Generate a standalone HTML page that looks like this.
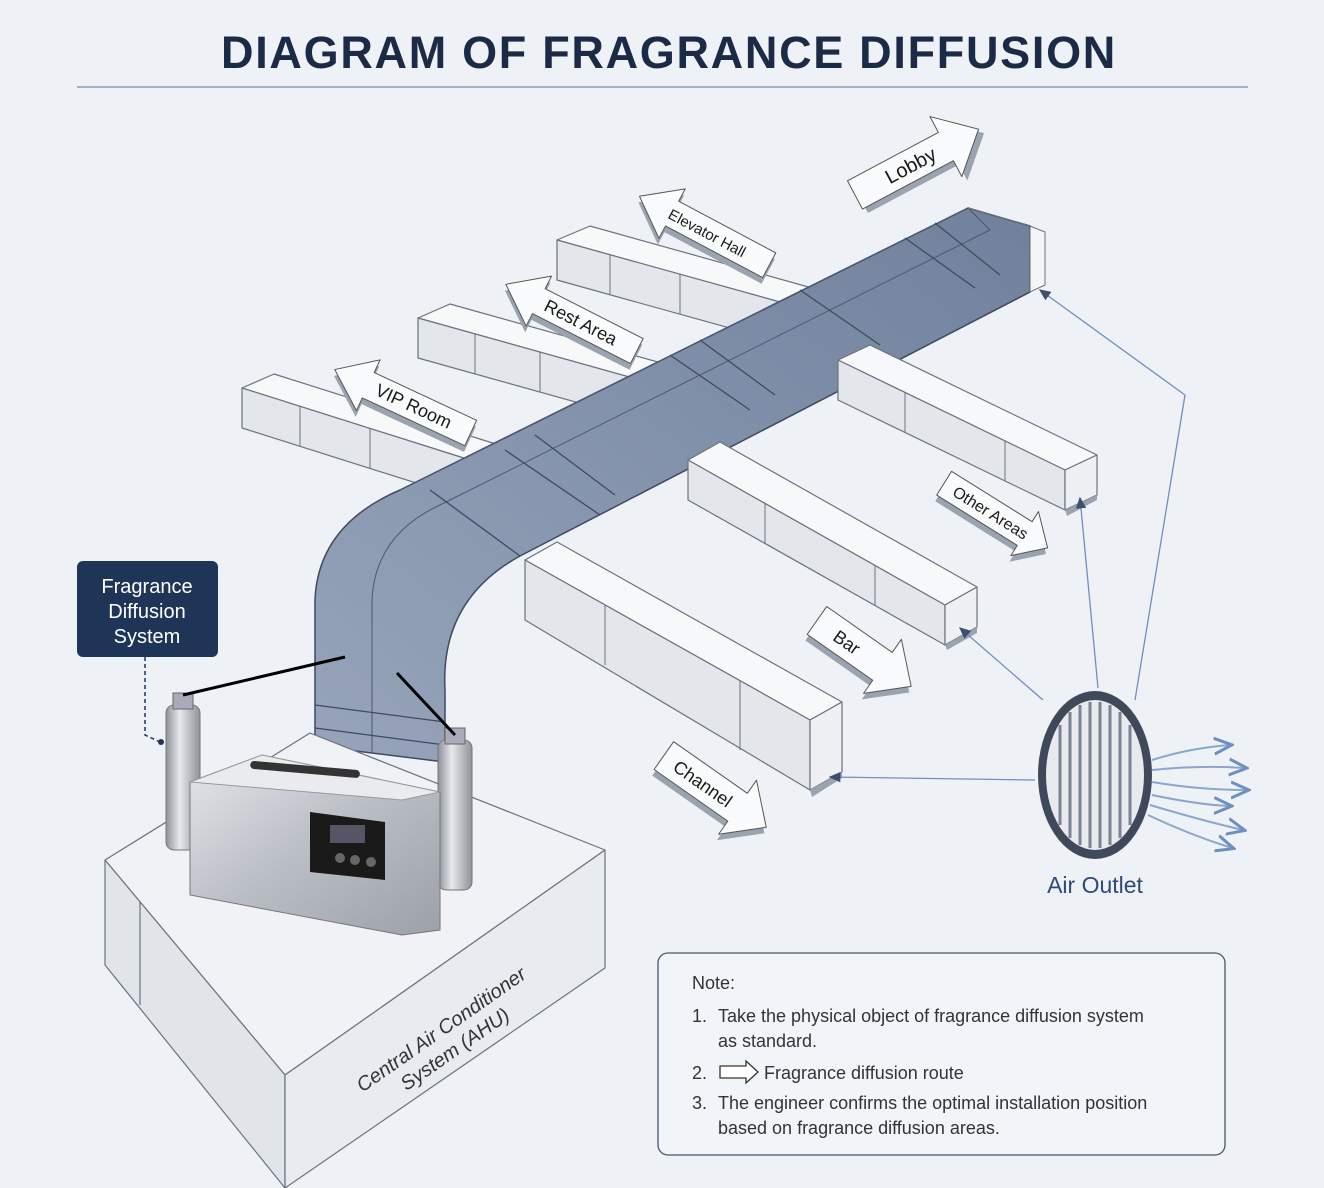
<!DOCTYPE html>
<html><head><meta charset="utf-8"><style>
html,body{margin:0;padding:0;background:#eef2f7;}
svg{display:block;font-family:"Liberation Sans",sans-serif;}
</style></head><body>
<svg width="1324" height="1188" viewBox="0 0 1324 1188" xmlns="http://www.w3.org/2000/svg">
<defs>
<linearGradient id="duct" x1="0" y1="1" x2="1" y2="0">
<stop offset="0" stop-color="#97a4ba"/><stop offset="0.5" stop-color="#8493ac"/><stop offset="1" stop-color="#71819c"/></linearGradient>
<linearGradient id="silver" x1="0" y1="0" x2="1" y2="1">
<stop offset="0" stop-color="#e4e6ea"/><stop offset="0.5" stop-color="#b9bdc4"/><stop offset="1" stop-color="#9ca1a9"/></linearGradient>
<linearGradient id="cyl" x1="0" y1="0" x2="1" y2="0">
<stop offset="0" stop-color="#8d9299"/><stop offset="0.4" stop-color="#e6e8eb"/><stop offset="1" stop-color="#8d9299"/></linearGradient>
<marker id="ah" markerWidth="10" markerHeight="10" refX="8" refY="5" orient="auto"><path d="M0,1 L9,5 L0,9 Z" fill="#3d4f6e"/></marker>
<marker id="bh" markerWidth="10" markerHeight="10" refX="8" refY="5" orient="auto"><path d="M0,1 L9,5 L0,9" fill="none" stroke="#6f8fbf" stroke-width="1.5"/></marker>
</defs>
<rect width="1324" height="1188" fill="#eef2f7"/>
<text x="669" y="68" text-anchor="middle" font-size="45" font-weight="bold" fill="#1c2b45" letter-spacing="1.7">DIAGRAM OF FRAGRANCE DIFFUSION</text>
<line x1="77" y1="87" x2="1248" y2="87" stroke="#8a9bb8" stroke-width="1.5"/>

<g stroke="#6b7280" stroke-width="1.2" stroke-linejoin="round">
<polygon points="557,240 590,226 812,288 780,302" fill="#f7f8fa"/>
<polygon points="557,240 780,302 780,342 557,280" fill="#e3e6eb"/>
<polygon points="418,318 450,304 672,366 640,380" fill="#f7f8fa"/>
<polygon points="418,318 640,380 640,420 418,358" fill="#e3e6eb"/>
<polygon points="242,388 274,374 502,446 470,460" fill="#f7f8fa"/>
<polygon points="242,388 470,460 470,500 242,428" fill="#e3e6eb"/>
</g>
<g stroke="#6b7280" stroke-width="1" fill="none">
<line x1="610" y1="255" x2="610" y2="295"/><line x1="680" y1="274" x2="680" y2="314"/>
<line x1="475" y1="334" x2="475" y2="374"/><line x1="540" y1="352" x2="540" y2="392"/>
<line x1="300" y1="406" x2="300" y2="446"/><line x1="370" y1="428" x2="370" y2="468"/>
</g>

<path d="M968,208 L1030,226 L1030,292 L520,556 Q440,600 445,690 L445,762 L315,746 L315,600 Q318,525 400,490 Z" fill="url(#duct)" stroke="#3d4a60" stroke-width="1.5"/>
<path d="M400,490 L968,208 L990,230 L440,505 Q375,535 372,600 L372,752" fill="none" stroke="#4a5870" stroke-width="1"/>
<g stroke="#3d4a60" stroke-width="1.3">
<line x1="430" y1="490" x2="520" y2="556"/><line x1="505" y1="450" x2="600" y2="515"/>
<line x1="535" y1="435" x2="615" y2="495"/><line x1="670" y1="355" x2="750" y2="410"/>
<line x1="700" y1="340" x2="775" y2="395"/><line x1="800" y1="290" x2="880" y2="345"/>
<line x1="905" y1="238" x2="975" y2="288"/><line x1="935" y1="223" x2="1000" y2="275"/>
<line x1="315" y1="705" x2="445" y2="722"/><line x1="315" y1="728" x2="445" y2="745"/>
</g>
<polygon points="968,208 1030,226 1045,232 1045,285 1030,292 1030,226" fill="#f4f5f7" stroke="#6b7280"/>

<g stroke="#6b7280" stroke-width="1.2" stroke-linejoin="round">
<polygon points="838,360 870,345 1097,455 1065,470" fill="#f7f8fa"/>
<polygon points="838,360 1065,470 1065,510 838,400" fill="#e3e6eb"/>
<polygon points="1065,470 1097,455 1097,495 1065,510" fill="#eef0f3"/>
<polygon points="688,460 720,442 977,587 945,605" fill="#f7f8fa"/>
<polygon points="688,460 945,605 945,645 688,500" fill="#e3e6eb"/>
<polygon points="945,605 977,587 977,627 945,645" fill="#eef0f3"/>
<polygon points="525,560 557,542 842,702 810,720" fill="#f7f8fa"/>
<polygon points="525,560 810,720 810,790 525,620" fill="#e3e6eb"/>
<polygon points="810,720 842,702 842,772 810,790" fill="#eef0f3"/>
</g>
<g stroke="#6b7280" stroke-width="1" fill="none">
<line x1="905" y1="392" x2="905" y2="432"/><line x1="1005" y1="441" x2="1005" y2="481"/>
<line x1="765" y1="503" x2="765" y2="543"/><line x1="875" y1="565" x2="875" y2="605"/>
<line x1="605" y1="605" x2="605" y2="665"/><line x1="740" y1="680" x2="740" y2="750"/>
</g>
<g fill="#9aa3b0"><polygon points="810,790 842,772 842,778 812,797"/><polygon points="945,645 977,627 977,633 947,650"/><polygon points="1065,510 1097,495 1097,500 1067,516"/></g>

<g font-size="17" fill="#1a1a1a" stroke-linejoin="round">
<g transform="translate(915,163) rotate(-28)">
<polygon points="-68,-16 35,-16 35,-34 72,0 35,34 35,16 -68,16" fill="#9aa3b0" transform="translate(3,6)"/>
<polygon points="-68,-16 35,-16 35,-34 72,0 35,34 35,16 -68,16" fill="#fafbfc" stroke="#555"/>
<text x="-5" y="7" text-anchor="middle" font-size="20">Lobby</text></g>
<g transform="translate(703,230) rotate(28)">
<polygon points="75,-14 -35,-14 -35,-28 -72,0 -35,28 -35,14 75,14" fill="#9aa3b0" transform="translate(2,6)"/>
<polygon points="75,-14 -35,-14 -35,-28 -72,0 -35,28 -35,14 75,14" fill="#fafbfc" stroke="#555"/>
<text x="5" y="6" text-anchor="middle" font-size="15">Elevator Hall</text></g>
<g transform="translate(570,317) rotate(27)">
<polygon points="75,-14 -35,-14 -35,-28 -72,0 -35,28 -35,14 75,14" fill="#9aa3b0" transform="translate(2,6)"/>
<polygon points="75,-14 -35,-14 -35,-28 -72,0 -35,28 -35,14 75,14" fill="#fafbfc" stroke="#555"/>
<text x="12" y="6" text-anchor="middle" font-size="18">Rest Area</text></g>
<g transform="translate(400,400) rotate(25)">
<polygon points="78,-14 -35,-14 -35,-28 -72,0 -35,28 -35,14 78,14" fill="#9aa3b0" transform="translate(2,6)"/>
<polygon points="78,-14 -35,-14 -35,-28 -72,0 -35,28 -35,14 78,14" fill="#fafbfc" stroke="#555"/>
<text x="15" y="6" text-anchor="middle" font-size="18">VIP Room</text></g>
<g transform="translate(995,515) rotate(32)">
<polygon points="-60,-14 35,-14 35,-26 62,0 35,26 35,14 -60,14" fill="#9aa3b0" transform="translate(2,6)"/>
<polygon points="-60,-14 35,-14 35,-26 62,0 35,26 35,14 -60,14" fill="#fafbfc" stroke="#555"/>
<text x="-5" y="6" text-anchor="middle" font-size="16">Other Areas</text></g>
<g transform="translate(862,652) rotate(35)">
<polygon points="-55,-17 25,-17 25,-33 60,0 25,33 25,17 -55,17" fill="#9aa3b0" transform="translate(2,6)"/>
<polygon points="-55,-17 25,-17 25,-33 60,0 25,33 25,17 -55,17" fill="#fafbfc" stroke="#555"/>
<text x="-18" y="7" text-anchor="middle" font-size="18">Bar</text></g>
<g transform="translate(713,790) rotate(35)">
<polygon points="-60,-17 30,-17 30,-33 65,0 30,33 30,17 -60,17" fill="#9aa3b0" transform="translate(2,6)"/>
<polygon points="-60,-17 30,-17 30,-33 65,0 30,33 30,17 -60,17" fill="#fafbfc" stroke="#555"/>
<text x="-12" y="7" text-anchor="middle" font-size="18">Channel</text></g>
</g>

<g stroke="#6b7280" stroke-width="1.2" stroke-linejoin="round">
<polygon points="105,860 310,733 605,850 285,1075" fill="#f0f2f5"/>
<polygon points="105,860 285,1075 285,1188 105,965" fill="#e1e4e9"/>
<polygon points="285,1075 605,850 605,968 285,1188" fill="#e8ebef"/>
<line x1="140" y1="902" x2="140" y2="1005"/>
</g>
<text transform="translate(445,1035) rotate(-35)" text-anchor="middle" font-size="20" fill="#333" font-style="italic"><tspan x="0" y="0">Central Air Conditioner</tspan><tspan x="0" y="24">System (AHU)</tspan></text>

<rect x="166" y="705" width="34" height="145" rx="8" fill="url(#cyl)" stroke="#777"/>
<rect x="173" y="693" width="20" height="16" fill="#aab" stroke="#666"/>
<rect x="438" y="740" width="34" height="150" rx="8" fill="url(#cyl)" stroke="#777"/>
<rect x="445" y="728" width="20" height="16" fill="#aab" stroke="#666"/>
<polygon points="190,782 262,755 440,792 440,930 402,935 190,895" fill="url(#silver)" stroke="#777"/>
<polygon points="190,782 262,755 440,792 402,800" fill="#e9ebee" stroke="#999"/>
<rect x="250" y="765" width="110" height="8" rx="4" fill="#333" transform="rotate(5 300 770)"/>
<polygon points="310,812 385,822 385,880 310,872" fill="#1a1a1a"/>
<rect x="330" y="825" width="35" height="18" fill="#556" />
<g fill="#666"><circle cx="340" cy="858" r="5"/><circle cx="355" cy="860" r="5"/><circle cx="371" cy="862" r="5"/></g>
<line x1="183" y1="695" x2="345" y2="657" stroke="#000" stroke-width="3"/>
<line x1="397" y1="673" x2="455" y2="735" stroke="#000" stroke-width="3"/>

<rect x="77" y="561" width="141" height="96" rx="6" fill="#1e3558"/>
<text x="147" y="593" text-anchor="middle" font-size="20" fill="#fff"><tspan x="147">Fragrance</tspan><tspan x="147" dy="25">Diffusion</tspan><tspan x="147" dy="25">System</tspan></text>
<path d="M145,657 L145,700 L145,735 L160,742" fill="none" stroke="#1e3558" stroke-width="1.5" stroke-dasharray="4,3"/>
<circle cx="161" cy="742" r="3" fill="#1e3558"/>

<ellipse cx="1095" cy="775" rx="57" ry="84" fill="#40495a"/>
<ellipse cx="1095" cy="775" rx="49" ry="75" fill="#e8eaee"/>
<g stroke="#7a8494" stroke-width="3">
<line x1="1060" y1="725" x2="1060" y2="825"/><line x1="1070" y1="712" x2="1070" y2="838"/><line x1="1080" y1="705" x2="1080" y2="845"/><line x1="1090" y1="702" x2="1090" y2="848"/><line x1="1100" y1="702" x2="1100" y2="848"/><line x1="1110" y1="705" x2="1110" y2="845"/><line x1="1120" y1="712" x2="1120" y2="838"/><line x1="1130" y1="725" x2="1130" y2="825"/>
</g>
<text x="1095" y="893" text-anchor="middle" font-size="23" fill="#2c4a7a">Air Outlet</text>
<g stroke="#8aa6cf" stroke-width="2" fill="none" marker-end="url(#bh)">
<path d="M1152,760 Q1190,748 1230,745"/><path d="M1152,770 Q1200,765 1245,768"/><path d="M1152,782 Q1200,790 1247,790"/><path d="M1152,795 Q1200,805 1230,806"/><path d="M1150,805 Q1200,820 1243,830"/><path d="M1148,815 Q1190,835 1232,848"/>
</g>
<g stroke="#6f8fbf" stroke-width="1.3" fill="none" marker-end="url(#ah)">
<line x1="1035" y1="780" x2="830" y2="777"/>
<line x1="1043" y1="700" x2="960" y2="628"/>
<line x1="1098" y1="688" x2="1080" y2="498"/>
<path d="M1135,700 L1185,395 L1040,290"/>
</g>

<rect x="658" y="953" width="567" height="202" rx="10" fill="#f1f4f8" stroke="#4a5568" stroke-width="1.3"/>
<g font-size="18" fill="#333">
<text x="692" y="989">Note:</text>
<text x="692" y="1022">1.</text><text x="718" y="1022">Take the physical object of fragrance diffusion system</text>
<text x="718" y="1047">as standard.</text>
<text x="692" y="1079">2.</text>
<polygon points="720,1066 746,1066 746,1061 758,1072 746,1083 746,1078 720,1078" fill="#fff" stroke="#333" stroke-width="1.3"/>
<text x="764" y="1079">Fragrance diffusion route</text>
<text x="692" y="1109">3.</text><text x="718" y="1109">The engineer confirms the optimal installation position</text>
<text x="718" y="1134">based on fragrance diffusion areas.</text>
</g>
</svg>
</body></html>
